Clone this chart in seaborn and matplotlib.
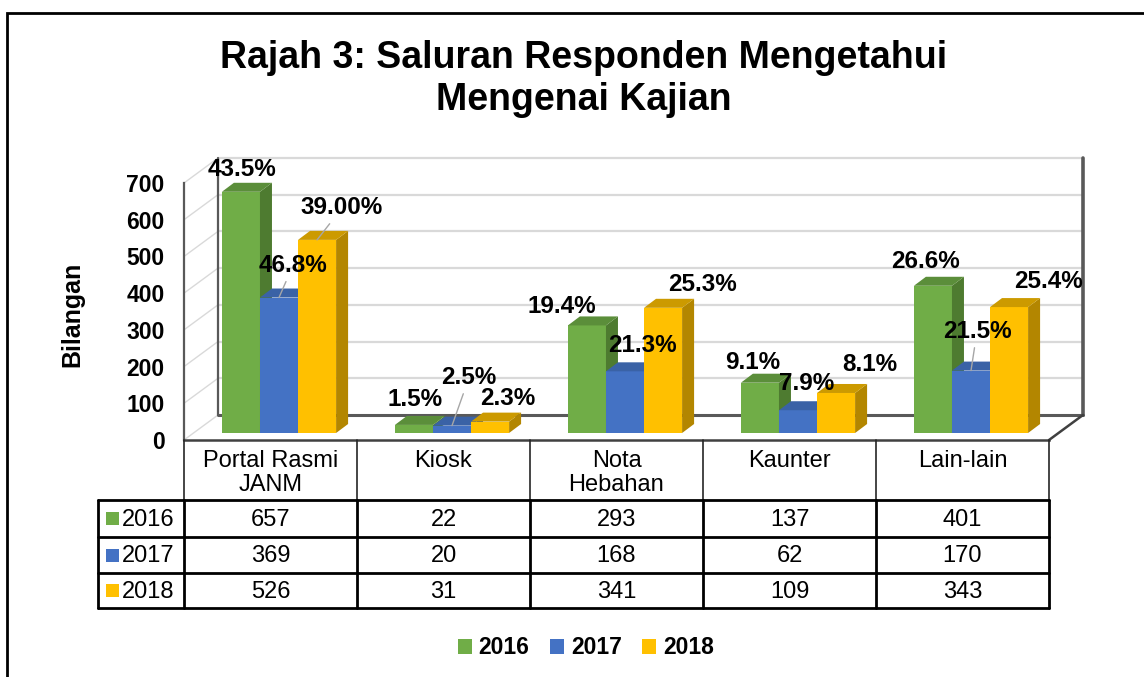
"""Rajah 3: Saluran Responden Mengetahui Mengenai Kajian (3D-style bar chart with data table)."""

import matplotlib.pyplot as plt
import matplotlib.transforms as mtransforms
from matplotlib.patches import Polygon, Rectangle, Patch
from matplotlib.lines import Line2D
import seaborn as sns
import pandas as pd

# ---- data ----
categories = ['Portal Rasmi\nJANM', 'Kiosk', 'Nota\nHebahan', 'Kaunter', 'Lain-lain']
years = ['2016', '2017', '2018']
counts_2016 = [657, 22, 293, 137, 401]
counts_2017 = [369, 20, 168, 62, 170]
counts_2018 = [526, 31, 341, 109, 343]
pct_2016 = ['43.5%', '1.5%', '19.4%', '9.1%', '26.6%']
pct_2017 = ['46.8%', '2.5%', '21.3%', '7.9%', '21.5%']
pct_2018 = ['39.00%', '2.3%', '25.3%', '8.1%', '25.4%']
y_ticks = [0, 100, 200, 300, 400, 500, 600, 700]

# ---- style ----
front_colors = ['#70AD47', '#4472C4', '#FFC000']
side_colors = ['#4E7B30', '#2F5597', '#B38600']
top_colors = ['#5B8E3A', '#3A62A6', '#CC9A00']

# label nudges in pixels (dx, dy upwards) from the front top of each bar
nudges = [
    [(1, 22), (1, 25), (-25, 19), (-7, 20), (-7, 24)],
    [(14, 32), (17, 48), (17, 26), (9, 27), (6, 39)],
    [(25, 32), (18, 23), (39, 23), (34, 28), (39, 26)],
]
leaders = [
    [False] * 5,
    [True, True, False, False, True],
    [True, False, False, False, False],
]

W, H = 1144, 677
sns.set_theme(style='white')
plt.rcParams['font.family'] = ['Liberation Sans', 'DejaVu Sans']
plt.rcParams['text.color'] = 'black'
plt.rcParams['axes.labelcolor'] = 'black'
plt.rcParams['ytick.color'] = 'black'
plt.rcParams['xtick.color'] = 'black'

fig = plt.figure(figsize=(W / 100, H / 100), dpi=100)


def fx(x):
    return x / W


def fy(y):
    return 1 - y / H


# front plot box in pixels
ax_left, ax_right, ax_top, ax_bottom = 184, 1049, 183, 440
ax = fig.add_axes([fx(ax_left), fy(ax_bottom), (ax_right - ax_left) / W, (ax_bottom - ax_top) / H])

df = pd.DataFrame({
    'category': categories * 3,
    'year': [y for y in years for _ in categories],
    'count': counts_2016 + counts_2017 + counts_2018,
})

sns.barplot(data=df, x='category', y='count', hue='year', order=categories,
            hue_order=years, palette=front_colors, width=0.66, saturation=1,
            dodge=True, legend=False, ax=ax)

ax.set_xlim(-0.5, 4.5)
ax.set_ylim(0, 700)
ax.set_xlabel('')
ax.set_ylabel('')

px_x = (ax_right - ax_left) / 5          # pixels per category unit
px_y = (ax_bottom - ax_top) / 700        # pixels per count unit

# depth of the box and of each bar, in data units
DX, DY = 34 / px_x, 25 / px_y
BDX, BDY = 12 / px_x, 9 / px_y

# back wall, floor and left wall
for t in y_ticks[1:]:
    ax.plot([-0.5 + DX, 4.5 + DX], [t + DY, t + DY], color='#d9d9d9', lw=1.6,
            zorder=0.5, clip_on=False)
for t in y_ticks:
    ax.plot([-0.5, -0.5 + DX], [t, t + DY], color='#d9d9d9', lw=1.0,
            zorder=0.5, clip_on=False)
ax.plot([-0.5 + DX, 4.5 + DX], [DY, DY], color='#595959', lw=2.2, zorder=0.6, clip_on=False)
ax.plot([-0.5 + DX] * 2, [DY, 700 + DY], color='#595959', lw=1.6, zorder=0.6, clip_on=False)
ax.plot([4.5 + DX] * 2, [DY, 700 + DY], color='#595959', lw=2.6, zorder=0.6, clip_on=False)
ax.plot([4.5, 4.5 + DX], [0, DY], color='#404040', lw=1.8, zorder=0.6, clip_on=False)

# bars sit a little inside the box
bar_shift = ax.transData + mtransforms.ScaledTranslation(8.5 / 100, 7 / 100, fig.dpi_scale_trans)

n_cat = len(categories)
all_pct = [pct_2016, pct_2017, pct_2018]
for k, p in enumerate(ax.patches[:3 * n_cat]):
    j = k // n_cat
    i = k % n_cat
    p.set_transform(bar_shift)
    p.set_zorder(2 + j * 0.1)
    p.set_edgecolor('none')
    x0, x1, h = p.get_x(), p.get_x() + p.get_width(), p.get_height()
    side = Polygon([(x1, 0), (x1 + BDX, BDY), (x1 + BDX, h + BDY), (x1, h)],
                   closed=True, fc=side_colors[j], ec='none', transform=bar_shift,
                   zorder=2 + j * 0.1, clip_on=False)
    top = Polygon([(x0, h), (x0 + BDX, h + BDY), (x1 + BDX, h + BDY), (x1, h)],
                  closed=True, fc=top_colors[j], ec='none', transform=bar_shift,
                  zorder=2 + j * 0.1, clip_on=False)
    ax.add_patch(side)
    ax.add_patch(top)

    dx, dy = nudges[j][i]
    arrow = None
    if leaders[j][i]:
        arrow = dict(arrowstyle='-', color='#a6a6a6', lw=1.0, shrinkA=1, shrinkB=0)
    ax.annotate(all_pct[j][i], xy=((x0 + x1) / 2, h), xycoords=bar_shift,
                xytext=(dx, dy), textcoords='offset pixels', ha='center', va='center',
                fontsize=17.5, fontweight='bold', color='black', zorder=5,
                arrowprops=arrow, annotation_clip=False)

# axes cosmetics
for s in ['top', 'right']:
    ax.spines[s].set_visible(False)
ax.spines['left'].set_color('#595959')
ax.spines['left'].set_linewidth(1.6)
ax.spines['bottom'].set_color('#404040')
ax.spines['bottom'].set_linewidth(1.8)
ax.set_xticks([])
ax.set_yticks(y_ticks)
ax.set_yticklabels([str(t) for t in y_ticks], fontsize=16.5, fontweight='bold')
ax.tick_params(axis='y', length=0, pad=14)
ax.patch.set_alpha(0)

fig.text(fx(72), fy(314), 'Bilangan', rotation=90, ha='center', va='center',
         fontsize=18, fontweight='bold')

# title
fig.text(fx(584), fy(79), 'Rajah 3: Saluran Responden Mengetahui\nMengenai Kajian',
         ha='center', va='center', fontsize=27, fontweight='bold', linespacing=1.2)

# ---- data table ----
col_edges = [ax_left + px_x * c for c in range(n_cat + 1)]
row_edges = [500, 537, 573, 608]
label_left = 98
body_counts = [counts_2016, counts_2017, counts_2018]

for x in col_edges:
    fig.add_artist(Line2D([fx(x)] * 2, [fy(ax_bottom), fy(row_edges[0])],
                          color='#262626', lw=1.2))
for x in [label_left] + col_edges:
    fig.add_artist(Line2D([fx(x)] * 2, [fy(row_edges[0]), fy(row_edges[-1])],
                          color='black', lw=2.0))
for y in row_edges:
    fig.add_artist(Line2D([fx(label_left), fx(col_edges[-1])], [fy(y)] * 2,
                          color='black', lw=2.0))

for i, cat in enumerate(categories):
    cx = (col_edges[i] + col_edges[i + 1]) / 2
    fig.text(fx(cx), fy(450), cat, ha='center', va='top', fontsize=17,
             linespacing=1.12)
    for j in range(3):
        cy = (row_edges[j] + row_edges[j + 1]) / 2
        fig.text(fx(cx), fy(cy + 1), str(body_counts[j][i]), ha='center',
                 va='center', fontsize=17)

for j, yr in enumerate(years):
    cy = (row_edges[j] + row_edges[j + 1]) / 2
    fig.add_artist(Rectangle((fx(106), fy(cy + 6.5)), 13 / W, 13 / H,
                             transform=fig.transFigure, fc=front_colors[j], ec='none'))
    fig.text(fx(122), fy(cy + 1), yr, ha='left', va='center', fontsize=17)

# ---- legend ----
handles = [Patch(facecolor=c, edgecolor='none', label=y) for c, y in zip(front_colors, years)]
fig.legend(handles=handles, loc='center', bbox_to_anchor=(fx(586), fy(648)), ncol=3,
           frameon=False, handlelength=0.6, handleheight=0.6, handletextpad=0.3,
           columnspacing=0.9, prop={'size': 16.5, 'weight': 'bold'})

# outer frame of the figure
fig.add_artist(Rectangle((fx(7), -0.05), 1.2, fy(13) + 0.05, transform=fig.transFigure,
                         fill=False, ec='black', lw=2))

fig.savefig('out.png', dpi=100)
